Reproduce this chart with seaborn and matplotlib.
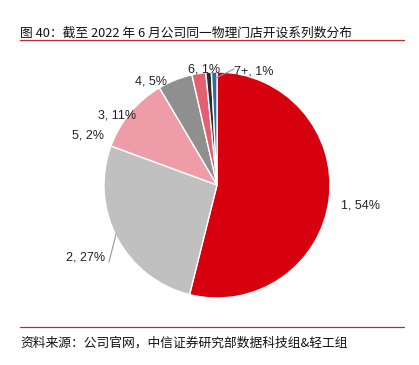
import matplotlib
matplotlib.use('Agg')
import matplotlib.pyplot as plt
import seaborn as sns
from matplotlib.lines import Line2D

# data
cats = ['1', '2', '3', '4', '5', '6', '7+']
shares = [54.5, 27, 11, 5, 2, 0.8, 0.8]
shown = ['54%', '27%', '11%', '5%', '2%', '1%', '1%']
colors = ['#D7000F', '#C0C0C0', '#EE9DA8', '#8F8F8F', '#E2606F', '#2B2B2B', '#2F6AA3']

sns.set_theme(style='white')
plt.rcParams['font.family'] = ['Noto Sans CJK SC', 'DejaVu Sans']

W, H = 419, 365
fig = plt.figure(figsize=(W / 100, H / 100), dpi=100)

# pie centre / radius in pixels
cx, cy, r = 217, 185, 113
ax = fig.add_axes([0, 0, 1, 1])
ax.pie(shares, colors=colors, startangle=90, counterclock=False,
       wedgeprops=dict(edgecolor='white', linewidth=1.0))
ax.set_xlim(-cx / r, (W - cx) / r)
ax.set_ylim(-(H - cy) / r, cy / r)
ax.set_aspect('auto')
ax.axis('off')

def px(x, y):
    return ((x - cx) / r, (cy - y) / r)

# label positions in pixels (as placed on the original)
label_pos = [(360, 205), (86, 258), (117, 115), (151, 82), (88, 135), (204, 70), (254, 72)]
for c, s, (x, y) in zip(cats, shown, label_pos):
    ax.text(*px(x, y), f'{c}, {s}', ha='center', va='center', fontsize=9,
            family=['Liberation Sans', 'DejaVu Sans'], color='#222222')

# leader lines
for (x0, y0), (x1, y1) in [((109, 262), (116, 234)), ((216, 78), (234, 69))]:
    a, b = px(x0, y0), px(x1, y1)
    ax.plot([a[0], b[0]], [a[1], b[1]], color='#999999', lw=0.8)

fig.text(20 / W, 1 - 33 / H, '图 40：截至 2022 年 6 月公司同一物理门店开设系列数分布',
         fontsize=9.2, va='center', ha='left', color='#111111')
fig.add_artist(Line2D([20 / W, 404 / W], [1 - 40 / H, 1 - 40 / H], color='#C0282D', lw=0.9))
fig.add_artist(Line2D([20 / W, 404 / W], [1 - 327 / H, 1 - 327 / H], color='#C0282D', lw=0.9))
fig.text(20 / W, 1 - 343 / H, '资料来源：公司官网，中信证券研究部数据科技组&轻工组',
         fontsize=9.2, va='center', ha='left', color='#111111')

fig.savefig('out.png', dpi=100)
